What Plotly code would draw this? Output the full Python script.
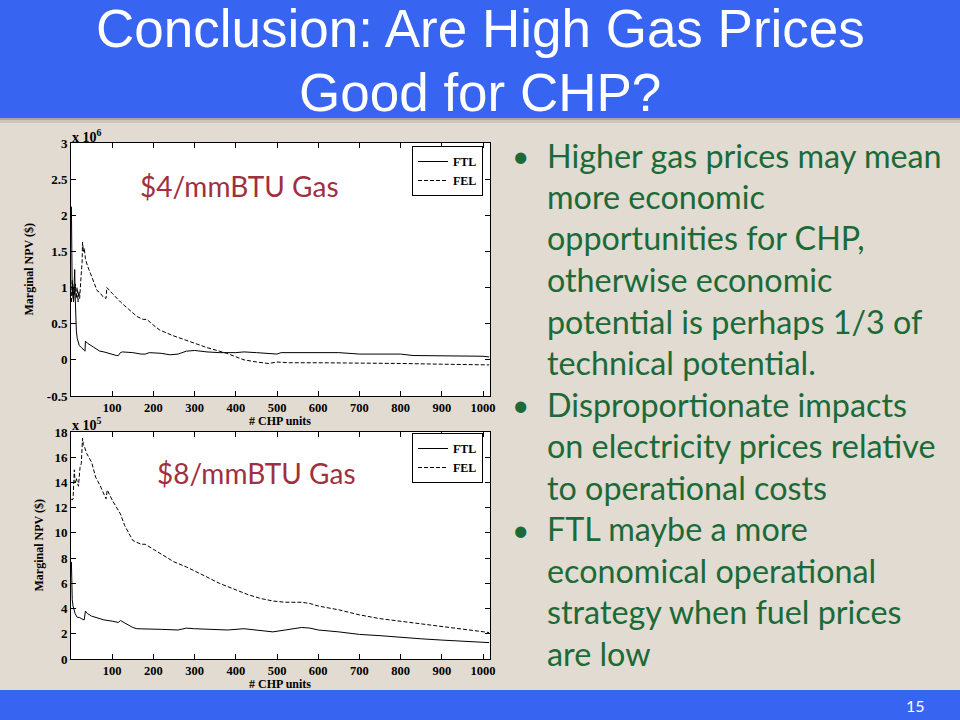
import plotly.graph_objects as go

# ---------------- data ----------------
title_lines = ["Conclusion: Are High Gas Prices", "Good for CHP?"]
page_number = "15"

panel_labels = ["$4/mmBTU Gas", "$8/mmBTU Gas"]
series_names = ["FTL", "FEL"]
x_title = "# CHP units"
y_title = "Marginal NPV ($)"
x_ticks = [100, 200, 300, 400, 500, 600, 700, 800, 900, 1000]
y_ticks_top = [-0.5, 0, 0.5, 1, 1.5, 2, 2.5, 3]
y_ticklabels_top = ["-0.5", "0", "0.5", "1", "1.5", "2", "2.5", "3"]
y_ticks_bot = [0, 2, 4, 6, 8, 10, 12, 14, 16, 18]
exp_top = "x 10<sup>6</sup>"
exp_bot = "x 10<sup>5</sup>"

# $4/mmBTU (values in 1e6 $)
x_ftl_4 = [1, 2, 3, 4, 5, 6, 7, 8, 9, 10, 11, 13, 15, 20, 25, 30, 33, 34, 35, 40, 50, 60, 70,
           80, 90, 100, 110, 115, 120, 125, 130, 150, 170, 180, 190, 220, 240, 260, 280, 300,
           330, 360, 400, 420, 450, 480, 500, 510, 550, 560, 600, 650, 700, 750, 800, 830,
           900, 1000, 1015]
ftl_4 = [2.12, 1.6, 0.9, 1.05, 1.0, 0.8, 0.85, 1.1, 1.25, 0.9, 0.6, 0.4, 0.3, 0.2, 0.17, 0.15,
         0.13, 0.12, 0.26, 0.23, 0.19, 0.15, 0.12, 0.11, 0.09, 0.07, 0.06, 0.06, 0.1, 0.11,
         0.11, 0.1, 0.08, 0.08, 0.1, 0.09, 0.07, 0.08, 0.12, 0.13, 0.11, 0.1, 0.1, 0.11, 0.1,
         0.09, 0.08, 0.1, 0.1, 0.11, 0.1, 0.1, 0.08, 0.08, 0.08, 0.06, 0.06, 0.05, 0.04]
x_fel_4 = [1, 3, 5, 7, 9, 11, 13, 15, 17, 19, 21, 23, 25, 27, 28, 30, 32, 35, 40, 47, 55, 63,
           70, 78, 85, 87, 100, 120, 140, 160, 175, 184, 200, 216, 250, 297, 330, 378, 400,
           420, 451, 480, 500, 530, 600, 700, 800, 900, 1000, 1015]
fel_4 = [0.8, 1.1, 0.85, 1.0, 0.9, 1.05, 0.85, 1.0, 0.8, 0.95, 0.85, 1.1, 1.2, 1.35, 1.63,
         1.5, 1.55, 1.4, 1.3, 1.2, 1.08, 0.96, 0.93, 0.87, 0.85, 1.0, 0.92, 0.8, 0.7, 0.6,
         0.56, 0.56, 0.48, 0.41, 0.33, 0.23, 0.17, 0.09, 0.04, 0.0, -0.03, -0.05, -0.03,
         -0.04, -0.04, -0.04, -0.05, -0.06, -0.07, -0.07]

# $8/mmBTU (values in 1e5 $)
x_ftl_8 = [1, 2, 3, 5, 10, 15, 20, 25, 32, 35, 40, 50, 60, 80, 100, 115, 120, 130, 150, 160,
           200, 220, 260, 280, 300, 350, 380, 420, 450, 490, 520, 560, 580, 600, 650, 700,
           750, 800, 850, 900, 950, 1000, 1015]
ftl_8 = [7.7, 6.0, 4.7, 4.2, 3.6, 3.3, 3.3, 3.2, 3.1, 3.8, 3.6, 3.4, 3.3, 3.1, 3.0, 2.9, 3.05,
         2.85, 2.5, 2.4, 2.4, 2.35, 2.3, 2.45, 2.4, 2.35, 2.3, 2.4, 2.3, 2.15, 2.3, 2.5, 2.45,
         2.3, 2.15, 1.95, 1.85, 1.7, 1.6, 1.5, 1.4, 1.3, 1.3]
x_fel_8 = [1, 3, 5, 7, 8, 10, 13, 18, 22, 25, 28, 30, 33, 38, 45, 50, 60, 70, 85, 88, 100,
           120, 130, 150, 170, 180, 200, 220, 250, 280, 300, 330, 360, 400, 430, 460, 490,
           520, 560, 580, 600, 650, 700, 750, 800, 850, 900, 950, 1000, 1015]
fel_8 = [12.7, 12.6, 12.7, 14.0, 15.0, 14.0, 14.3, 13.7, 15.2, 15.5, 17.5, 17.0, 16.8, 16.3,
         15.9, 15.6, 14.4, 13.8, 12.7, 13.4, 12.6, 11.5, 10.6, 9.4, 9.1, 9.1, 8.7, 8.3, 7.7,
         7.3, 7.0, 6.5, 6.0, 5.5, 5.1, 4.8, 4.6, 4.5, 4.5, 4.4, 4.2, 3.9, 3.5, 3.2, 3.0, 2.8,
         2.6, 2.4, 2.2, 2.1]

bullets = [
    ["Higher gas prices may mean", "more economic", "opportunities for CHP,",
     "otherwise economic", "potential is perhaps 1/3 of", "technical potential."],
    ["Disproportionate impacts", "on electricity prices relative", "to operational costs"],
    ["FTL maybe a more", "economical operational", "strategy when fuel prices", "are low"],
]

# ---------------- style ----------------
W, H = 960, 720
BLUE = "#3864F2"
BEIGE = "#E1DBD1"
GREEN = "#1B6A38"
RED = "#A0303F"
SERIF = "Liberation Serif"


def px(x):
    return x / W


def py(y):
    return 1 - y / H


fig = go.Figure()
dash_style = "4px,2px"
fig.add_trace(go.Scatter(x=x_ftl_4, y=ftl_4, mode="lines", name=series_names[0],
                         line=dict(color="black", width=1), xaxis="x", yaxis="y", legend="legend"))
fig.add_trace(go.Scatter(x=x_fel_4, y=fel_4, mode="lines", name=series_names[1],
                         line=dict(color="black", width=1, dash=dash_style), xaxis="x", yaxis="y",
                         legend="legend"))
fig.add_trace(go.Scatter(x=x_ftl_8, y=ftl_8, mode="lines", name=series_names[0],
                         line=dict(color="black", width=1), xaxis="x2", yaxis="y2", legend="legend2"))
fig.add_trace(go.Scatter(x=x_fel_8, y=fel_8, mode="lines", name=series_names[1],
                         line=dict(color="black", width=1, dash=dash_style), xaxis="x2", yaxis="y2",
                         legend="legend2"))

tickfont = dict(family=SERIF, size=13, color="black", weight="bold")
axis_common = dict(showline=True, linecolor="black", linewidth=1, mirror="ticks", ticks="inside",
                   ticklen=5, tickcolor="black", showgrid=False, zeroline=False, tickfont=tickfont,
                   automargin=False)
xtickfont = dict(family=SERIF, size=12.5, color="black", weight="bold")

PL, PR = 71, 490
top_t, top_b = 143, 396
bot_t, bot_b = 432, 659

legend_common = dict(bgcolor="white", bordercolor="black", borderwidth=1,
                     font=dict(family=SERIF, size=12, color="black", weight="bold"),
                     xanchor="right", yanchor="top", tracegroupgap=0, itemwidth=30,
                     traceorder="normal")

x_axis_style = {**axis_common, "tickfont": xtickfont}

fig.update_layout(
    width=W, height=H,
    margin=dict(l=0, r=0, t=0, b=0, pad=0, autoexpand=False),
    paper_bgcolor=BEIGE, plot_bgcolor="white", showlegend=True,
    xaxis=dict(domain=[px(PL), px(PR)], range=[0, 1017], anchor="y", tickvals=x_ticks, **x_axis_style),
    yaxis=dict(domain=[py(top_b), py(top_t)], range=[-0.5, 3], anchor="x", tickvals=y_ticks_top,
               ticktext=y_ticklabels_top, **axis_common),
    xaxis2=dict(domain=[px(PL), px(PR)], range=[0, 1017], anchor="y2", tickvals=x_ticks, **x_axis_style),
    yaxis2=dict(domain=[py(bot_b), py(bot_t)], range=[0, 18], anchor="x2", tickvals=y_ticks_bot,
                **axis_common),
    legend=dict(x=px(483), y=py(146), **legend_common),
    legend2=dict(x=px(483), y=py(433), **legend_common),
)

shapes = [
    dict(type="rect", xref="paper", yref="paper", x0=0, x1=1, y0=py(118), y1=1,
         fillcolor=BLUE, line=dict(width=0), layer="below"),
    dict(type="rect", xref="paper", yref="paper", x0=0, x1=1, y0=py(120), y1=py(118),
         fillcolor="#A9A59F", line=dict(width=0), layer="below"),
    dict(type="rect", xref="paper", yref="paper", x0=0, x1=1, y0=py(123), y1=py(120),
         fillcolor="#CCC6BD", line=dict(width=0), layer="below"),
    dict(type="rect", xref="paper", yref="paper", x0=0, x1=1, y0=0, y1=py(690),
         fillcolor=BLUE, line=dict(width=0), layer="below"),
]
fig.update_layout(shapes=shapes)

ann = []
# title
for i, t in enumerate(title_lines):
    ann.append(dict(text=t, x=0.5, y=py(29 + i * 64), xref="paper", yref="paper", showarrow=False,
                    xanchor="center", yanchor="middle",
                    font=dict(family="Liberation Sans", size=53, color="white")))
ann.append(dict(text=page_number, x=px(915), y=py(705), xref="paper", yref="paper", showarrow=False,
                xanchor="center", yanchor="middle",
                font=dict(family="Lato", size=16, color="white")))

# panel labels
ann.append(dict(text=panel_labels[0], x=px(239), y=py(186), xref="paper", yref="paper",
                showarrow=False, xanchor="center", yanchor="middle",
                font=dict(family="Lato", size=28, color=RED)))
ann.append(dict(text=panel_labels[1], x=px(256), y=py(473), xref="paper", yref="paper",
                showarrow=False, xanchor="center", yanchor="middle",
                font=dict(family="Lato", size=28, color=RED)))

# exponents
for txt, yy in [(exp_top, 136), (exp_bot, 424)]:
    ann.append(dict(text=txt, x=px(70), y=py(yy), xref="paper", yref="paper", showarrow=False,
                    xanchor="left", yanchor="middle",
                    font=dict(family=SERIF, size=14, color="black", weight="bold")))

# axis titles
for xc, yc in [(28, (top_t + top_b) / 2), (38, (bot_t + bot_b) / 2)]:
    ann.append(dict(text=y_title, x=px(xc), y=py(yc), xref="paper", yref="paper", showarrow=False,
                    textangle=-90, xanchor="center", yanchor="middle",
                    font=dict(family=SERIF, size=12, color="black", weight="bold")))
for yy in [421, 684]:
    ann.append(dict(text=x_title, x=px(280), y=py(yy), xref="paper", yref="paper", showarrow=False,
                    xanchor="center", yanchor="middle",
                    font=dict(family=SERIF, size=12, color="black", weight="bold")))

# bullets
line_h = 41.5
y0 = 155
k = 0
for group in bullets:
    for j, line in enumerate(group):
        yy = y0 + k * line_h
        if j == 0:
            ann.append(dict(text="•", x=px(520), y=py(yy), xref="paper", yref="paper",
                            showarrow=False, xanchor="center", yanchor="middle",
                            font=dict(family="Lato", size=30, color=GREEN)))
        ann.append(dict(text=line, x=px(545), y=py(yy), xref="paper", yref="paper",
                        showarrow=False, xanchor="left", yanchor="middle",
                        font=dict(family="Lato", size=32.3, color=GREEN)))
        k += 1

fig.update_layout(annotations=ann)
fig.write_html("out.html", config={"displayModeBar": False},
               post_script="document.body.style.margin='0px';document.body.style.overflow='hidden';")
